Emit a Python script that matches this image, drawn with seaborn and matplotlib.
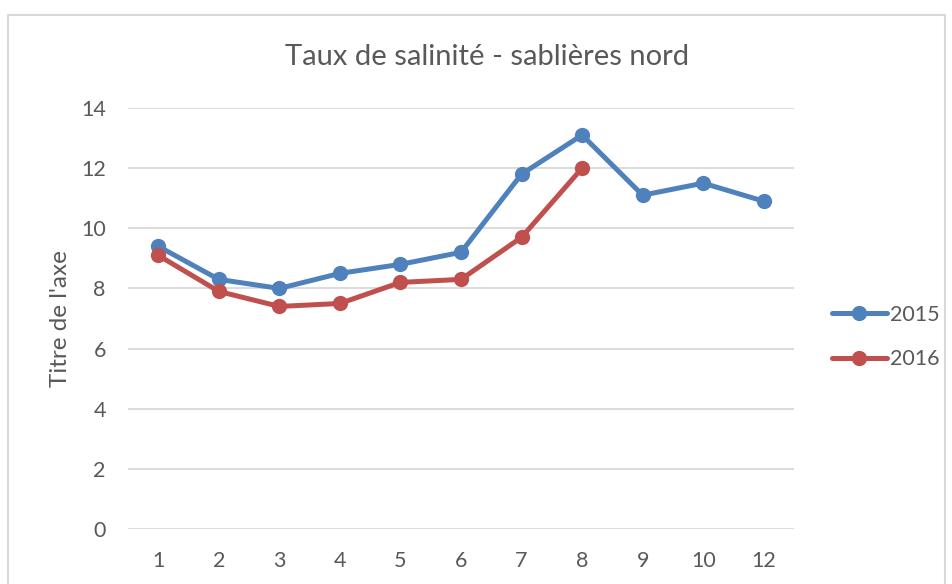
import pandas as pd
import seaborn as sns
import matplotlib.pyplot as plt
from matplotlib.patches import Rectangle

months = ['1', '2', '3', '4', '5', '6', '7', '8', '9', '10', '12']
sal_2015 = [9.4, 8.3, 8.0, 8.5, 8.8, 9.2, 11.8, 13.1, 11.1, 11.5, 10.9]
sal_2016 = [9.1, 7.9, 7.4, 7.5, 8.2, 8.3, 9.7, 12.0]

rows = []
for m, v in zip(months, sal_2015):
    rows.append({'mois': m, 'taux': v, 'annee': '2015'})
for m, v in zip(months, sal_2016):
    rows.append({'mois': m, 'taux': v, 'annee': '2016'})
data = pd.DataFrame(rows)
data['pos'] = data['mois'].map({m: i for i, m in enumerate(months)})

sns.set_style('white')
plt.rcParams['font.family'] = ['Lato', 'DejaVu Sans']
grey = '#595959'

fig = plt.figure(figsize=(9.53, 5.84), dpi=100)
ax = fig.add_axes([0.1343, 0.0942, 0.6989, 0.7209])

sns.lineplot(data=data, x='pos', y='taux', hue='annee',
             palette={'2015': '#4F81BD', '2016': '#C0504D'},
             marker='o', markersize=11, markeredgewidth=0,
             linewidth=3.6, sort=False, ax=ax)

ax.set_xlim(-0.5, len(months) - 0.5)
ax.set_ylim(0, 14)
ax.set_xticks(range(len(months)))
ax.set_xticklabels(months)
ax.set_yticks(range(0, 15, 2))
ax.yaxis.grid(True, color='#D9D9D9', linewidth=1.3)
ax.set_axisbelow(True)
for s in ax.spines.values():
    s.set_visible(False)
ax.tick_params(axis='both', length=0, labelsize=15.5, colors=grey)
ax.tick_params(axis='x', pad=16)
ax.tick_params(axis='y', pad=16)
ax.set_xlabel('')
ax.set_ylabel("Titre de l'axe", fontsize=17.5, color=grey)
ax.yaxis.set_label_coords(-0.0856, 0.5)
ax.set_title('Taux de salinité - sablières nord', fontsize=21, color=grey,
             pad=31, x=0.539)

leg = ax.legend(loc='center left', bbox_to_anchor=(0.873, 0.423),
                bbox_transform=fig.transFigure, frameon=False,
                fontsize=15.5, handlelength=2.55, handletextpad=0.15,
                labelspacing=1.15, borderaxespad=0, borderpad=0)
for t in leg.get_texts():
    t.set_color(grey)

fig.patches.append(Rectangle((8 / 953, -0.1), 937 / 953, 1.1 - 15 / 584,
                             transform=fig.transFigure, fill=False,
                             edgecolor='#D9D9D9', linewidth=1.5))

fig.savefig('out.png', dpi=100)
